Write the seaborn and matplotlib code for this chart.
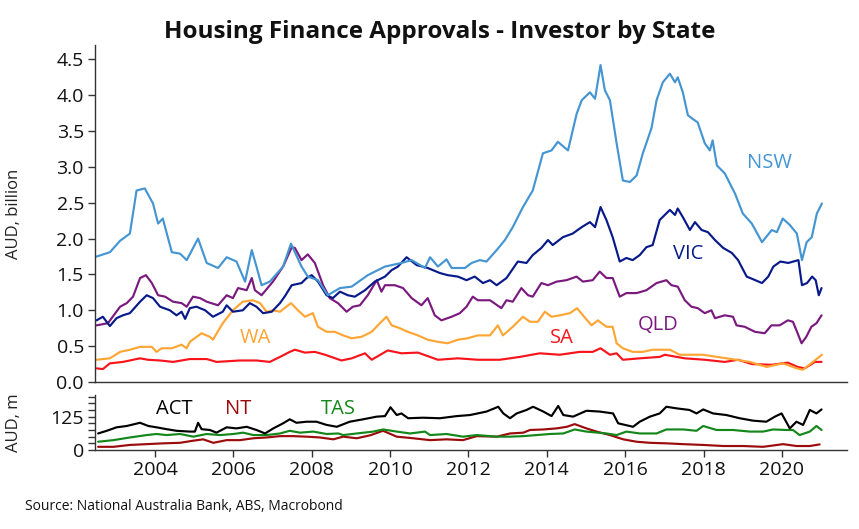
import numpy as np
import pandas as pd
import matplotlib
matplotlib.use("Agg")
import matplotlib.pyplot as plt
from matplotlib.ticker import MultipleLocator
import seaborn as sns

# ---------------- data ----------------
nsw_year = [2002.51, 2002.85, 2003.11, 2003.36, 2003.53, 2003.74, 2003.95, 2004.08, 2004.20, 2004.43,
            2004.64, 2004.81, 2005.10, 2005.32, 2005.61, 2005.83, 2006.08, 2006.30, 2006.47, 2006.59,
            2006.72, 2006.93, 2007.27, 2007.47, 2007.74, 2007.90, 2008.16, 2008.41, 2008.72, 2009.02,
            2009.43, 2009.87, 2010.29, 2010.55, 2010.89, 2011.02, 2011.22, 2011.44, 2011.57, 2011.91,
            2012.08, 2012.29, 2012.46, 2012.72, 2012.93, 2013.13, 2013.39, 2013.64, 2013.90, 2014.12,
            2014.28, 2014.54, 2014.76, 2014.89, 2015.10, 2015.23, 2015.37, 2015.48, 2015.61, 2015.78,
            2015.94, 2016.12, 2016.29, 2016.45, 2016.67, 2016.80, 2016.96, 2017.14, 2017.27, 2017.34,
            2017.47, 2017.60, 2017.72, 2017.85, 2018.03, 2018.16, 2018.23, 2018.34, 2018.54, 2018.80,
            2019.00, 2019.23, 2019.49, 2019.74, 2019.87, 2020.02, 2020.20, 2020.38, 2020.51, 2020.63,
            2020.76, 2020.89, 2021.02]
nsw_val = [1.75, 1.81, 1.97, 2.07, 2.67, 2.70, 2.49, 2.21, 2.28, 1.81,
           1.79, 1.70, 2.00, 1.66, 1.59, 1.74, 1.68, 1.40, 1.84, 1.61,
           1.35, 1.40, 1.61, 1.93, 1.61, 1.47, 1.42, 1.21, 1.31, 1.33,
           1.49, 1.61, 1.66, 1.70, 1.59, 1.74, 1.61, 1.71, 1.59, 1.59,
           1.66, 1.70, 1.68, 1.84, 1.98, 2.16, 2.44, 2.67, 3.19, 3.23,
           3.35, 3.23, 3.74, 3.93, 4.04, 3.95, 4.42, 4.07, 3.93, 3.33,
           2.81, 2.79, 2.88, 3.19, 3.54, 3.93, 4.18, 4.30, 4.18, 4.25,
           4.04, 3.72, 3.67, 3.62, 3.33, 3.23, 3.37, 3.02, 2.91, 2.63,
           2.35, 2.21, 1.95, 2.12, 2.09, 2.28, 2.19, 2.07, 1.70, 1.95,
           2.02, 2.35, 2.49]

vic_year = [2002.51, 2002.67, 2002.85, 2003.02, 2003.18, 2003.36, 2003.62, 2003.79, 2003.95, 2004.13,
            2004.38, 2004.55, 2004.68, 2004.77, 2004.89, 2005.06, 2005.28, 2005.48, 2005.73, 2005.83,
            2005.99, 2006.24, 2006.42, 2006.59, 2006.76, 2006.98, 2007.19, 2007.32, 2007.49, 2007.74,
            2007.87, 2008.00, 2008.16, 2008.38, 2008.54, 2008.72, 2008.92, 2009.10, 2009.36, 2009.61,
            2009.87, 2010.04, 2010.20, 2010.42, 2010.68, 2010.96, 2011.27, 2011.47, 2011.73, 2011.95,
            2012.16, 2012.37, 2012.55, 2012.72, 2012.97, 2013.26, 2013.48, 2013.64, 2013.86, 2014.03,
            2014.15, 2014.41, 2014.66, 2014.89, 2015.10, 2015.23, 2015.37, 2015.52, 2015.68, 2015.86,
            2016.03, 2016.19, 2016.37, 2016.54, 2016.70, 2016.88, 2017.01, 2017.14, 2017.27, 2017.34,
            2017.47, 2017.65, 2017.78, 2017.95, 2018.11, 2018.29, 2018.50, 2018.72, 2018.88, 2019.10,
            2019.32, 2019.49, 2019.65, 2019.78, 2019.96, 2020.16, 2020.42, 2020.51, 2020.64, 2020.77,
            2020.86, 2020.94, 2021.01]
vic_val = [0.86, 0.91, 0.78, 0.89, 0.93, 0.96, 1.12, 1.21, 1.17, 1.05,
           1.00, 0.93, 0.98, 0.88, 1.03, 1.05, 1.00, 0.91, 0.98, 1.07,
           0.98, 1.00, 1.10, 1.05, 0.96, 0.98, 1.10, 1.20, 1.35, 1.38,
           1.45, 1.49, 1.40, 1.21, 1.17, 1.26, 1.21, 1.19, 1.28, 1.40,
           1.47, 1.56, 1.61, 1.74, 1.63, 1.59, 1.52, 1.49, 1.47, 1.42,
           1.47, 1.38, 1.42, 1.35, 1.45, 1.68, 1.66, 1.77, 1.87, 1.98,
           1.91, 2.02, 2.07, 2.16, 2.23, 2.16, 2.44, 2.26, 2.02, 1.68,
           1.73, 1.70, 1.77, 1.88, 1.91, 2.26, 2.33, 2.40, 2.33, 2.42,
           2.30, 2.12, 2.23, 2.12, 2.09, 1.98, 1.87, 1.80, 1.70, 1.47,
           1.42, 1.38, 1.47, 1.61, 1.68, 1.66, 1.70, 1.35, 1.38, 1.47,
           1.42, 1.21, 1.31]

qld_year = [2002.51, 2002.80, 2003.11, 2003.28, 2003.44, 2003.62, 2003.77, 2003.92, 2004.08, 2004.26,
            2004.46, 2004.68, 2004.81, 2004.97, 2005.15, 2005.32, 2005.61, 2005.83, 2005.99, 2006.12,
            2006.34, 2006.47, 2006.55, 2006.72, 2007.01, 2007.27, 2007.49, 2007.57, 2007.74, 2007.90,
            2008.08, 2008.29, 2008.46, 2008.67, 2008.89, 2009.05, 2009.23, 2009.43, 2009.66, 2009.78,
            2009.87, 2010.12, 2010.33, 2010.55, 2010.80, 2010.96, 2011.14, 2011.31, 2011.57, 2011.78,
            2011.95, 2012.11, 2012.24, 2012.55, 2012.84, 2012.97, 2013.13, 2013.35, 2013.52, 2013.64,
            2013.86, 2014.03, 2014.25, 2014.50, 2014.76, 2014.92, 2015.17, 2015.35, 2015.52, 2015.68,
            2015.86, 2016.03, 2016.29, 2016.54, 2016.80, 2017.05, 2017.18, 2017.34, 2017.52, 2017.69,
            2017.85, 2018.03, 2018.20, 2018.29, 2018.54, 2018.75, 2018.84, 2019.05, 2019.31, 2019.56,
            2019.73, 2019.94, 2020.15, 2020.28, 2020.37, 2020.50, 2020.62, 2020.75, 2020.88, 2021.01]
qld_val = [0.79, 0.82, 1.05, 1.10, 1.19, 1.45, 1.49, 1.38, 1.21, 1.19,
           1.12, 1.10, 1.05, 1.19, 1.17, 1.12, 1.07, 1.21, 1.17, 1.31,
           1.28, 1.45, 1.28, 1.21, 1.40, 1.61, 1.88, 1.87, 1.70, 1.78,
           1.66, 1.35, 1.17, 1.10, 0.98, 1.05, 1.07, 1.21, 1.42, 1.26,
           1.35, 1.35, 1.31, 1.17, 1.07, 1.17, 0.93, 0.86, 0.91, 0.96,
           1.05, 1.19, 1.14, 1.14, 1.03, 1.14, 1.12, 1.31, 1.21, 1.19,
           1.38, 1.35, 1.40, 1.42, 1.47, 1.40, 1.42, 1.54, 1.45, 1.45,
           1.19, 1.24, 1.24, 1.28, 1.38, 1.42, 1.35, 1.33, 1.14, 1.05,
           1.03, 0.96, 1.00, 0.89, 0.93, 0.91, 0.79, 0.77, 0.70, 0.68,
           0.79, 0.79, 0.86, 0.84, 0.72, 0.54, 0.63, 0.77, 0.82, 0.93]

wa_year = [2002.51, 2002.85, 2003.11, 2003.36, 2003.62, 2003.92, 2004.04, 2004.17, 2004.43, 2004.68,
           2004.81, 2004.89, 2005.19, 2005.40, 2005.48, 2005.73, 2005.99, 2006.24, 2006.50, 2006.68,
           2006.85, 2007.01, 2007.19, 2007.47, 2007.65, 2007.83, 2008.03, 2008.16, 2008.38, 2008.59,
           2008.80, 2009.02, 2009.27, 2009.53, 2009.74, 2009.91, 2010.04, 2010.25, 2010.45, 2010.71,
           2010.96, 2011.22, 2011.47, 2011.73, 2011.98, 2012.24, 2012.55, 2012.75, 2012.88, 2013.13,
           2013.39, 2013.57, 2013.77, 2013.95, 2014.12, 2014.33, 2014.59, 2014.77, 2014.92, 2015.14,
           2015.30, 2015.52, 2015.68, 2015.78, 2015.94, 2016.19, 2016.45, 2016.70, 2017.14, 2017.39,
           2017.98, 2018.59, 2019.18, 2019.61, 2020.02, 2020.38, 2020.53, 2020.79, 2021.02]
wa_val = [0.31, 0.33, 0.42, 0.45, 0.49, 0.49, 0.42, 0.47, 0.47, 0.52,
          0.47, 0.56, 0.68, 0.63, 0.59, 0.82, 1.00, 1.12, 1.14, 1.10,
          0.98, 1.00, 0.98, 1.10, 1.00, 0.91, 0.96, 0.77, 0.70, 0.70,
          0.65, 0.61, 0.63, 0.70, 0.82, 0.91, 0.79, 0.75, 0.70, 0.65,
          0.59, 0.56, 0.54, 0.59, 0.61, 0.65, 0.65, 0.79, 0.65, 0.77,
          0.91, 0.84, 0.84, 0.98, 0.91, 0.93, 0.96, 1.03, 0.93, 0.79,
          0.86, 0.77, 0.77, 0.54, 0.47, 0.42, 0.42, 0.45, 0.45, 0.38,
          0.38, 0.33, 0.28, 0.21, 0.26, 0.19, 0.17, 0.28, 0.38]

sa_year = [2002.51, 2002.67, 2002.85, 2003.18, 2003.62, 2003.82, 2004.13, 2004.46, 2004.89, 2005.32,
           2005.57, 2006.17, 2006.59, 2006.93, 2007.19, 2007.44, 2007.57, 2007.83, 2008.08, 2008.34,
           2008.76, 2009.02, 2009.36, 2009.53, 2009.94, 2010.29, 2010.71, 2011.22, 2011.73, 2012.24,
           2012.80, 2013.31, 2013.82, 2014.33, 2014.84, 2015.17, 2015.37, 2015.61, 2015.78, 2015.94,
           2016.37, 2016.88, 2017.01, 2017.52, 2018.03, 2018.54, 2018.88, 2019.23, 2019.74, 2020.15,
           2020.40, 2020.58, 2020.84, 2021.01]
sa_val = [0.19, 0.18, 0.26, 0.28, 0.33, 0.31, 0.30, 0.28, 0.32, 0.32,
          0.28, 0.30, 0.30, 0.28, 0.35, 0.42, 0.45, 0.41, 0.42, 0.38,
          0.30, 0.33, 0.40, 0.31, 0.44, 0.40, 0.41, 0.31, 0.33, 0.31,
          0.31, 0.35, 0.40, 0.38, 0.42, 0.42, 0.47, 0.38, 0.40, 0.31,
          0.33, 0.35, 0.38, 0.33, 0.31, 0.28, 0.31, 0.25, 0.24, 0.27,
          0.21, 0.19, 0.28, 0.28]

act_year = [2002.55, 2002.77, 2003.02, 2003.28, 2003.62, 2003.83, 2004.04, 2004.30, 2004.55, 2004.89,
            2005.02, 2005.10, 2005.19, 2005.40, 2005.57, 2005.83, 2006.08, 2006.34, 2006.59, 2006.81,
            2007.02, 2007.27, 2007.44, 2007.61, 2007.87, 2008.12, 2008.38, 2008.64, 2008.97, 2009.31,
            2009.66, 2009.87, 2010.01, 2010.17, 2010.29, 2010.46, 2010.84, 2011.27, 2011.70, 2012.04,
            2012.46, 2012.76, 2012.89, 2013.06, 2013.23, 2013.48, 2013.65, 2013.91, 2014.12, 2014.29,
            2014.42, 2014.67, 2015.01, 2015.35, 2015.69, 2015.82, 2016.20, 2016.37, 2016.63, 2016.88,
            2017.05, 2017.31, 2017.64, 2017.82, 2017.99, 2018.24, 2018.58, 2018.92, 2019.26, 2019.60,
            2019.82, 2019.99, 2020.20, 2020.37, 2020.54, 2020.71, 2020.88, 2021.01]
act_val = [62, 72, 85, 90, 102, 90, 85, 78, 72, 69,
           69, 102, 78, 75, 65, 85, 81, 87, 75, 62,
           81, 100, 115, 102, 106, 106, 94, 87, 106, 115,
           125, 127, 160, 131, 137, 119, 121, 119, 127, 131,
           144, 162, 137, 119, 137, 150, 162, 144, 127, 165,
           131, 125, 147, 144, 137, 100, 87, 106, 125, 137,
           162, 156, 150, 137, 152, 137, 131, 119, 110, 106,
           125, 137, 81, 106, 94, 150, 137, 152]

nt_year = [2002.55, 2002.94, 2003.36, 2003.79, 2004.21, 2004.64, 2004.98, 2005.23, 2005.49, 2005.83,
           2006.17, 2006.51, 2006.85, 2007.19, 2007.53, 2007.87, 2008.21, 2008.55, 2008.80, 2009.15,
           2009.49, 2009.82, 2010.17, 2010.59, 2011.02, 2011.44, 2011.86, 2012.21, 2012.72, 2013.06,
           2013.40, 2013.57, 2013.91, 2014.25, 2014.51, 2014.71, 2015.01, 2015.27, 2015.61, 2015.95,
           2016.29, 2016.63, 2017.05, 2017.48, 2017.99, 2018.50, 2019.01, 2019.52, 2020.03, 2020.37,
           2020.71, 2020.96]
nt_val = [12, 12, 19, 22, 25, 27, 35, 40, 27, 37,
          37, 44, 47, 52, 52, 50, 47, 40, 50, 44,
          55, 72, 50, 44, 37, 40, 37, 52, 50, 62,
          65, 75, 77, 81, 87, 97, 81, 69, 56, 40,
          31, 27, 25, 22, 19, 15, 15, 12, 22, 15,
          15, 21]

tas_year = [2002.55, 2002.94, 2003.36, 2003.79, 2004.04, 2004.30, 2004.64, 2004.98, 2005.32, 2005.66,
            2006.00, 2006.25, 2006.51, 2006.85, 2007.19, 2007.44, 2007.70, 2008.04, 2008.38, 2008.68,
            2008.80, 2009.15, 2009.57, 2009.82, 2010.17, 2010.51, 2010.89, 2011.02, 2011.44, 2011.86,
            2012.21, 2012.72, 2013.06, 2013.40, 2013.74, 2014.08, 2014.42, 2014.71, 2015.01, 2015.52,
            2015.78, 2016.03, 2016.37, 2016.80, 2017.05, 2017.48, 2017.82, 2017.99, 2018.33, 2018.75,
            2019.18, 2019.52, 2019.77, 2020.11, 2020.28, 2020.45, 2020.71, 2020.88, 2021.01]
tas_val = [31, 37, 47, 56, 60, 56, 60, 50, 60, 56,
           60, 65, 56, 56, 62, 72, 65, 69, 60, 62,
           56, 62, 69, 77, 69, 62, 69, 56, 60, 50,
           56, 50, 50, 52, 56, 60, 62, 77, 69, 62,
           56, 69, 62, 62, 77, 77, 72, 90, 75, 75,
           69, 69, 77, 75, 75, 56, 69, 90, 75]

top_states = ["NSW", "VIC", "QLD", "WA", "SA"]
bottom_states = ["ACT", "NT", "TAS"]
x_ticks = [2004, 2006, 2008, 2010, 2012, 2014, 2016, 2018, 2020]

colors = {"NSW": "#4495d1", "VIC": "#08198a", "QLD": "#7a1a7e", "WA": "#ffa534",
          "SA": "#f8141b", "ACT": "#000000", "NT": "#9b0b0b", "TAS": "#14871a"}

series = {"NSW": (nsw_year, nsw_val), "VIC": (vic_year, vic_val), "QLD": (qld_year, qld_val),
          "WA": (wa_year, wa_val), "SA": (sa_year, sa_val), "ACT": (act_year, act_val),
          "NT": (nt_year, nt_val), "TAS": (tas_year, tas_val)}


def long_df(names):
    frames = []
    for n in names:
        yr, v = series[n]
        frames.append(pd.DataFrame({"year": yr, "value": v, "state": n}))
    return pd.concat(frames, ignore_index=True)


df_top = long_df(top_states)
df_bot = long_df(bottom_states)

# ---------------- figure ----------------
sns.set_theme(style="ticks")
plt.rcParams["font.family"] = ["Open Sans", "DejaVu Sans"]

fig = plt.figure(figsize=(8.59, 5.29), dpi=100)
ax1 = fig.add_axes([0.1106, 0.2779, 0.875, 0.637])
ax2 = fig.add_axes([0.1106, 0.1493, 0.875, 0.104])

lw = 1.55
sns.lineplot(data=df_top, x="year", y="value", hue="state", hue_order=top_states[::-1],
             palette=colors, estimator=None, legend=False, linewidth=lw, ax=ax1)
sns.lineplot(data=df_bot, x="year", y="value", hue="state", hue_order=["NT", "TAS", "ACT"],
             palette=colors, estimator=None, legend=False, linewidth=lw, ax=ax2)

xlim = (2002.47, 2021.65)
for ax in (ax1, ax2):
    ax.set_xlim(*xlim)
    sns.despine(ax=ax)
    for s in ("left", "bottom"):
        ax.spines[s].set_linewidth(1.0)
        ax.spines[s].set_color("#333333")
    ax.set_xlabel("")

tick_size = 14
ax1.set_ylim(0, 4.7)
ax1.set_yticks([0, 0.5, 1, 1.5, 2, 2.5, 3, 3.5, 4, 4.5])
ax1.set_yticklabels([f"{v:.1f}" for v in [0, 0.5, 1, 1.5, 2, 2.5, 3, 3.5, 4, 4.5]])
ax1.set_xticks([])
ax1.tick_params(axis="y", labelsize=tick_size, labelcolor="#111111", length=5, width=1,
                color="#333333", pad=3)
ax1.set_ylabel("AUD, billion", fontsize=12, color="#222222")

ax2.set_ylim(0, 206)
ax2.set_yticks([0, 125])
ax2.yaxis.set_minor_locator(MultipleLocator(25))
ax2.set_xticks(x_ticks)
ax2.set_xticklabels([str(v) for v in x_ticks])
ax2.tick_params(axis="both", which="major", labelsize=tick_size, labelcolor="#111111",
                length=5, width=1, color="#333333", pad=3)
ax2.tick_params(axis="y", which="minor", length=5, width=1, color="#333333")
ax2.set_ylabel("AUD, m", fontsize=12, color="#222222")
ax1.yaxis.set_label_coords(-0.097, 0.5)
ax2.yaxis.set_label_coords(-0.097, 0.5)

# series labels
lab_kw = dict(fontsize=14.5, ha="center", va="center")
ax1.text(2019.68, 3.05, "NSW", color=colors["NSW"], **lab_kw)
ax1.text(2017.6, 1.78, "VIC", color=colors["VIC"], **lab_kw)
ax1.text(2016.85, 0.79, "QLD", color=colors["QLD"], **lab_kw)
ax1.text(2014.38, 0.62, "SA", color=colors["SA"], **lab_kw)
ax1.text(2006.55, 0.62, "WA", color=colors["WA"], **lab_kw)
ax2.text(2004.5, 152, "ACT", color=colors["ACT"], **lab_kw)
ax2.text(2006.12, 152, "NT", color=colors["NT"], **lab_kw)
ax2.text(2008.68, 152, "TAS", color=colors["TAS"], **lab_kw)

fig.text(0.512, 0.939, "Housing Finance Approvals - Investor by State", ha="center", va="center",
         fontsize=17.5, fontweight="bold", color="#111111")
fig.text(0.029, 0.043, "Source: National Australia Bank, ABS, Macrobond", ha="left", va="center",
         fontsize=10, color="#111111")

fig.savefig("out.png", dpi=100)
